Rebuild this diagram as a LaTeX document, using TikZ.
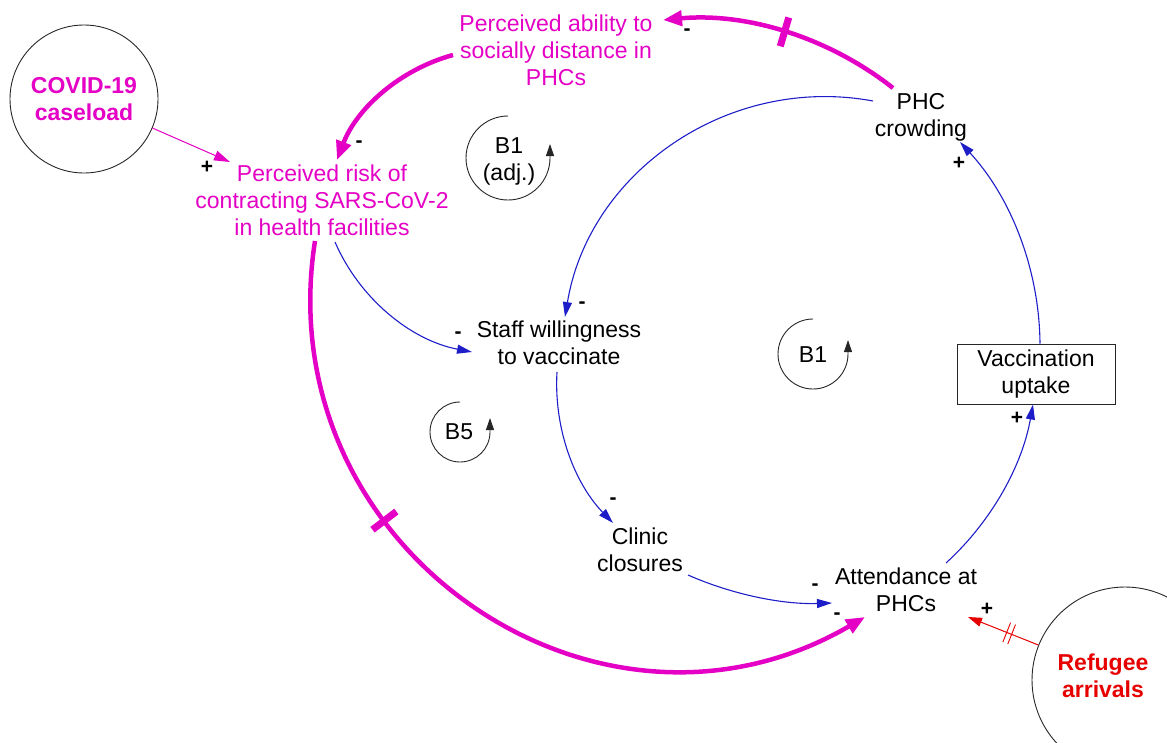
\documentclass[tikz,border=0pt]{standalone}
\usepackage{fontspec}
\setmainfont{Liberation Sans}
\usetikzlibrary{arrows.meta,calc}
\definecolor{mag}{RGB}{228,0,196}
\definecolor{cblue}{RGB}{30,30,200}
\definecolor{cred}{RGB}{230,0,0}
\begin{document}
\begin{tikzpicture}[x=1pt,y=1pt,
  txt/.style={align=center, inner sep=0pt, font=\fontsize{23}{27}\selectfont},
  boldtxt/.style={align=center, inner sep=0pt, font=\fontsize{23}{27}\selectfont\bfseries},
  pol/.style={inner sep=0pt, font=\fontsize{21}{21}\selectfont\bfseries},
  magarrow/.style={draw=mag, line width=4.5pt, -{Triangle[length=19pt,width=15pt]}},
  blueconn/.style={draw=cblue, line width=1.1pt, -{Triangle[length=15pt,width=9pt]}},
  covarrow/.style={draw=mag, line width=1pt, -{Triangle[length=16pt,width=10pt]}},
  redarrow/.style={draw=cred, line width=1pt, -{Triangle[length=14pt,width=9pt]}},
  hashbar/.style={rectangle, fill=mag, inner sep=0pt, minimum width=7pt, minimum height=30pt},
  dbar/.style={rectangle, fill=cred, inner sep=0pt, minimum width=0.9pt, minimum height=21pt},
  loopc/.style={draw=black!85, line width=0.9pt, -{Triangle[length=12pt,width=8pt]}},
  ring/.style={circle, draw=black!85, line width=0.9pt, inner sep=0pt}
]
\useasboundingbox (0,0) rectangle (1167,-742);
\clip (0,0) rectangle (1167,-742);

% variables
\node[txt, text=mag] (risk) at (322,-200) {Perceived risk of\\contracting SARS-CoV-2\\in health facilities};
\node[txt, text=mag] (ability) at (556,-50) {Perceived ability to\\socially distance in\\PHCs};
\node[txt] (crowd) at (921,-117) {PHC\\crowding};
\node[txt] (staff) at (559,-343) {Staff willingness\\to vaccinate};
\node[txt] (clinic) at (640,-550) {Clinic\\closures};
\node[txt] (attend) at (906,-590) {Attendance at\\PHCs};
\node[txt, draw=black!85, line width=1pt, minimum width=158pt, minimum height=60pt] (vacc) at (1036,-374) {Vaccination\\uptake};
\node[ring, minimum size=148pt, boldtxt, text=mag] (covid) at (84,-99) {COVID-19\\caseload};
\node[ring, minimum size=186pt] (refC) at (1125,-680) {};
\node[boldtxt, text=cred] (refugee) at (1103,-676) {Refugee\\arrivals};

% loop labels
\node[txt] (b1a) at (509,-161) {B1\\(adj.)};
\node[txt] (b1) at (813,-355) {B1};
\node[txt] (b5) at (459,-432) {B5};
\draw[loopc] (508,-116) arc[start angle=90, end angle=360, radius=42] -- ++(0,14);
\draw[loopc] (813,-319) arc[start angle=90, end angle=360, radius=35] -- ++(0,14);
\draw[loopc] (460,-402) arc[start angle=90, end angle=360, radius=30] -- ++(0,14);

% magenta links
\draw[magarrow] ($(crowd)+(-28,29)$) .. controls +(141.8:83) and +(5.3:83) .. ($(ability)+(107,30)$)
  node[pos=0.5, sloped, hashbar] (h1) {};
\draw[magarrow] ($(ability)+(-103,-5)$) .. controls +(195.2:55) and +(69.2:55) .. ($(risk)+(15,40)$);
\draw[magarrow] ($(risk)+(-7,-41)$) .. controls +(261.1:311) and +(210.2:311) .. ($(attend)+(-41,-27)$)
  node[pos=0.35, sloped, hashbar] (h2) {};
\draw[covarrow] (covid.-23.6) -- ($(risk)+(-92,38)$);

% blue links
\draw[blueconn] ($(crowd)+(-48,16)$) .. controls +(169.5:147) and +(80.6:147) .. ($(staff)+(6,26)$);
\draw[blueconn] ($(risk)+(13,-42)$) .. controls +(293.4:62) and +(169.1:62) .. ($(staff)+(-87,-9)$);
\draw[blueconn] ($(staff)+(-2,-29)$) .. controls +(266.6:56) and +(134:56) .. ($(clinic)+(-27,27)$);
\draw[blueconn] ($(clinic)+(48,-25)$) .. controls +(336.2:49) and +(181.9:49) .. ($(attend)+(-74,-13)$);
\draw[blueconn] ($(attend)+(40,27)$) .. controls +(42.4:62) and +(259.9:62) .. ($(vacc.south)+(-3,0)$);
\draw[blueconn] ($(vacc.north)+(4,0)$) .. controls +(90.6:75) and +(312.6:75) .. ($(crowd)+(39,-25)$);

% red link
\draw[redarrow] (refC.158.7) -- ($(attend)+(62,-27)$)
  node[pos=0.38, sloped, dbar] (d1) {} node[pos=0.45, sloped, dbar] (d2) {};

% polarities
\node[pol] (p1) at (687,-32) {-};
\node[pol] (p2) at (359,-144) {-};
\node[pol] (p3) at (207,-167) {+};
\node[pol] (p4) at (582,-305) {-};
\node[pol] (p5) at (458,-335) {-};
\node[pol] (p6) at (613,-501) {-};
\node[pol] (p7) at (815,-587) {-};
\node[pol] (p8) at (837,-616) {-};
\node[pol] (p9) at (987,-609) {+};
\node[pol] (p10) at (1017,-418) {+};
\node[pol] (p11) at (959,-163) {+};
\end{tikzpicture}
\end{document}
